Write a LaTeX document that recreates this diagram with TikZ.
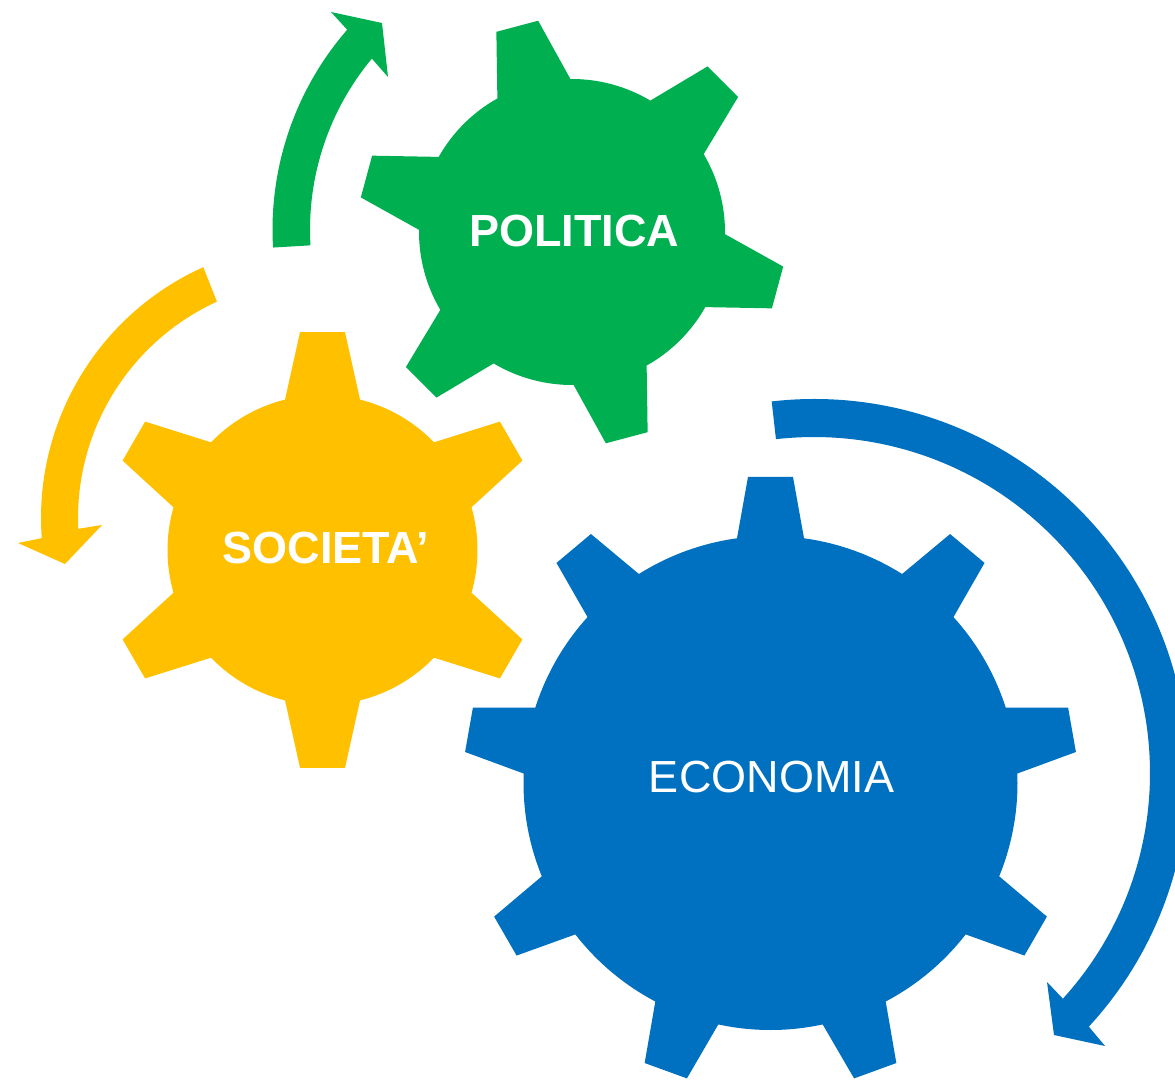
\documentclass[tikz,border=0pt]{standalone}
\usepackage{fontspec}
\setmainfont{Liberation Sans}
\usetikzlibrary{calc}
\definecolor{gGreen}{HTML}{00B050}
\definecolor{gYellow}{HTML}{FFC000}
\definecolor{gBlue}{HTML}{0070C0}
\tikzset{
  gearlabel/.style={text=white, font=\fontsize{45}{54}\selectfont\bfseries, anchor=base, inner sep=0pt},
  gearplain/.style={text=white, font=\fontsize{45}{54}\selectfont, anchor=base, inner sep=0pt},
}
\begin{document}
\begin{tikzpicture}[x=1pt,y=1pt]
\useasboundingbox (0,0) rectangle (1175,-1079);
\clip (0,0) rectangle (1175,-1079);

% arrow centres
\coordinate (ga) at (577,-229.5);
\coordinate (ya) at (316,-518);
\coordinate (ba) at (814,-773);

% green arrow
\fill[gGreen] ($(ga)+(183.4:304.5)$) arc[start angle=183.4, end angle=139.0, radius=304.5]
  -- (331,-12) -- (382,-23) -- (388,-77)
  -- ($(ga)+(140.2:267)$) arc[start angle=140.2, end angle=183.4, radius=267] -- cycle;

% yellow arrow
\fill[gYellow] ($(ya)+(114.2:275)$) arc[start angle=114.2, end angle=184.2, radius=275]
  -- (18,-543) -- (65,-564) -- (102,-525)
  -- ($(ya)+(182.6:238)$) arc[start angle=182.6, end angle=114.6, radius=238] -- cycle;

% blue arrow
\fill[gBlue] ($(ba)+(96.5:374)$) arc[start angle=96.5, end angle=-42.7, radius=374]
  -- (1105,-1046) -- (1054,-1035) -- (1047,-982)
  -- ($(ba)+(-42.2:336)$) arc[start angle=-42.2, end angle=96.5, radius=336] -- cycle;

% green gear
\begin{scope}[shift={(572,-232)}, rotate=104.9]
  \fill[gGreen] (-14.3:153) \foreach \a in {0,60,...,300}{
     -- ({\a-14.3}:153) -- ({\a-5.8}:214) -- ({\a+5.8}:214) -- ({\a+14.3}:153)
     arc[start angle=\a+14.3, end angle=\a+45.7, radius=153]} -- cycle;
\end{scope}

% yellow gear
\begin{scope}[shift={(322.5,-550)}, rotate=90]
  \fill[gYellow] (-14:155) \foreach \a in {0,60,...,300}{
     -- ({\a-14}:155) -- ({\a-5.9}:219) -- ({\a+5.9}:219) -- ({\a+14}:155)
     arc[start angle=\a+14, end angle=\a+46, radius=155]} -- cycle;
\end{scope}

% blue gear
\begin{scope}[shift={(770.5,-783)}, rotate=90]
  \fill[gBlue] (-7.8:247) \foreach \a in {0,40,...,320}{
     -- ({\a-7.8}:247) -- ({\a-4.2}:307) -- ({\a+4.2}:307) -- ({\a+7.8}:247)
     arc[start angle=\a+7.8, end angle=\a+32.2, radius=247]} -- cycle;
\end{scope}

\node[gearlabel] (politica) at (574,-246) {POLITICA};
\node[gearlabel] (societa) at (326,-563) {SOCIETA’};
\node[gearplain] (economia) at (771.5,-792) {ECONOMIA};
\end{tikzpicture}
\end{document}
